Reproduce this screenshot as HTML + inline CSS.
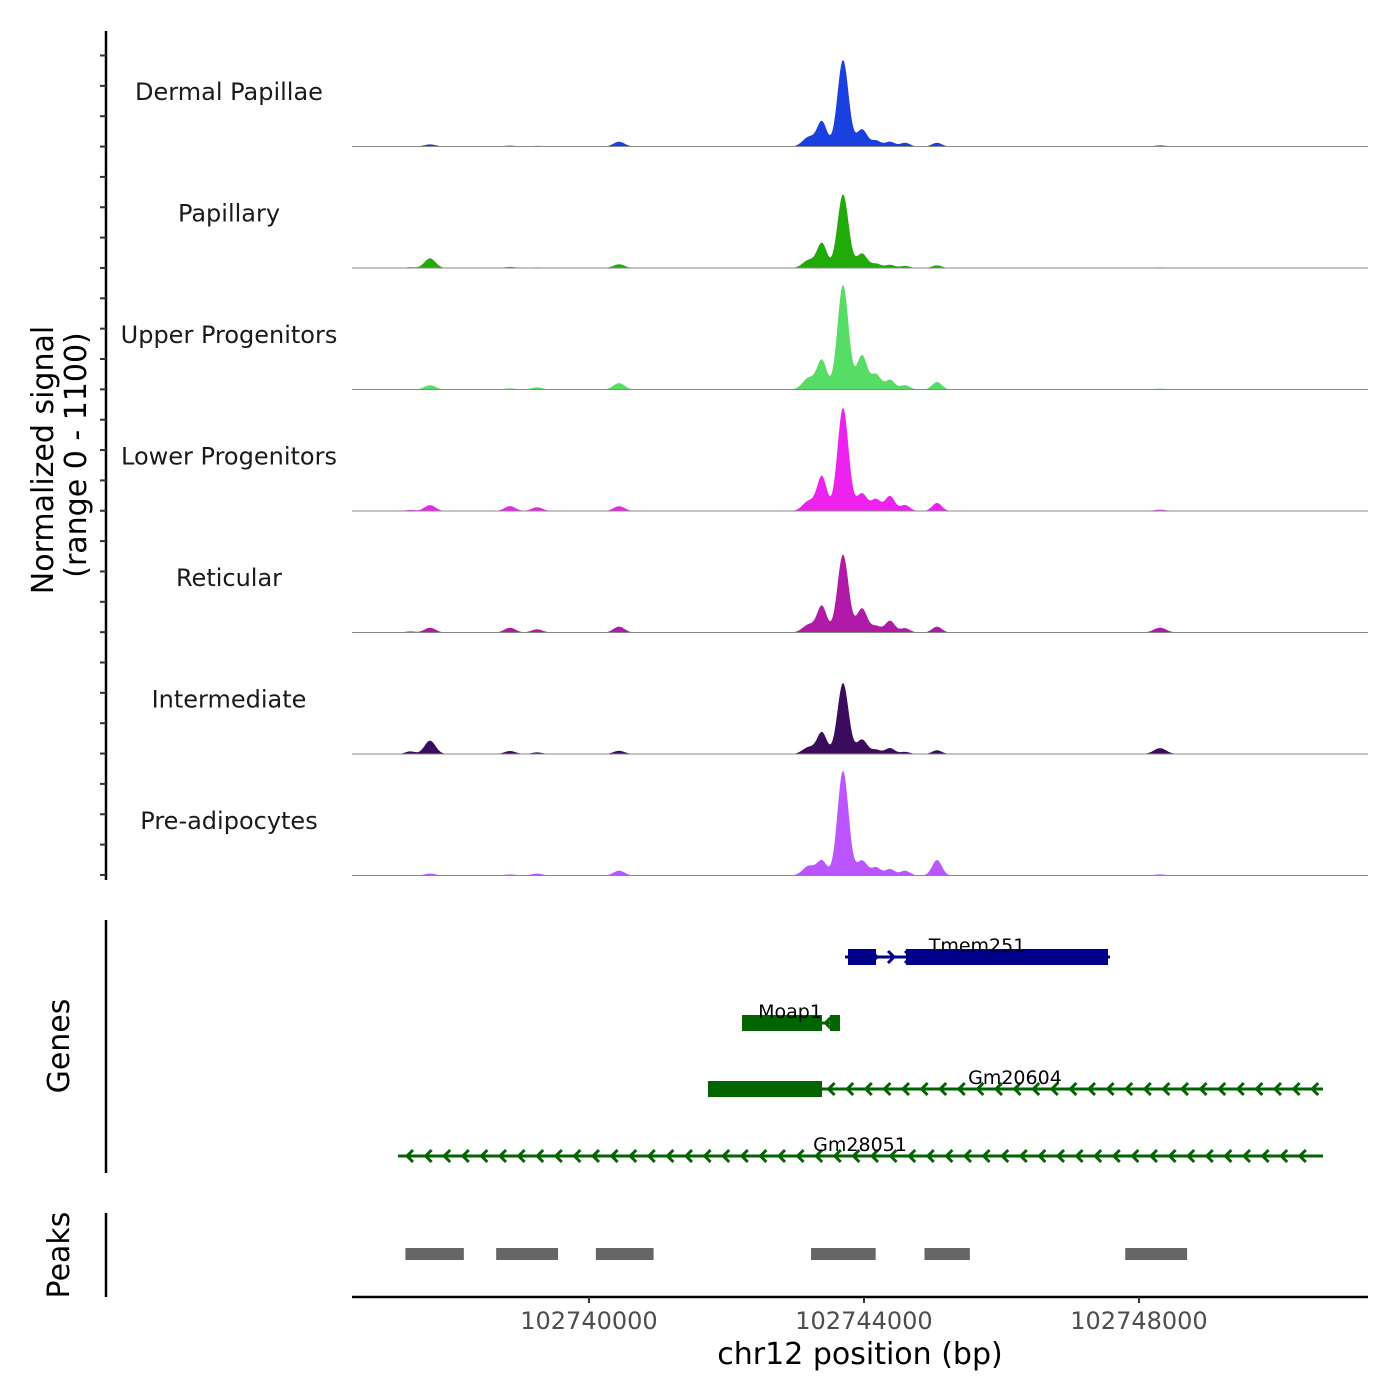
<!DOCTYPE html>
<html><head><meta charset="utf-8"><style>
html,body{margin:0;padding:0;background:#fff;}
svg{display:block;font-family:"DejaVu Sans","Liberation Sans",sans-serif;}
</style></head><body>
<svg id="chart" width="1400" height="1400" viewBox="0 0 1400 1400" xmlns="http://www.w3.org/2000/svg"></svg>
<script>
const trackNames = ["Dermal Papillae","Papillary","Upper Progenitors","Lower Progenitors","Reticular","Intermediate","Pre-adipocytes"];
const trackColors = ["#1a40e0","#22aa08","#55dd66","#ee22ee","#b01aa6","#3b0b5e","#bb55ff"];
// peak centres (bp) and per-track heights (signal units, range 0-1100)
const peakPos = [102737400,102737688,102738851,102739244,102740437,102743200,102743389,102743695,102743971,102744175,102744378,102744597,102745062,102748306];
const peakWidth = [70,80,80,80,80,90,70,80,75,70,70,70,70,90];
const dermalVals = [5,20,8,6,45,90,230,810,160,55,45,35,35,10];
const papillaryVals = [8,90,10,6,35,75,230,690,135,40,30,20,25,6];
const upperVals = [5,40,10,20,60,110,270,980,320,140,90,40,70,8];
const lowerVals = [10,55,45,35,45,95,320,965,165,110,140,55,75,12];
const reticularVals = [10,45,45,30,55,75,245,730,225,60,110,40,55,45];
const intermediateVals = [25,125,28,15,30,65,200,665,135,40,55,20,35,55];
const preadipVals = [4,18,10,18,45,90,135,980,140,75,60,45,145,10];
const trackValues = [dermalVals,papillaryVals,upperVals,lowerVals,reticularVals,intermediateVals,preadipVals];
const xTicks = [102740000,102744000,102748000];
const xTickLabels = ["102740000","102744000","102748000"];
const geneNames = ["Tmem251","Moap1","Gm20604","Gm28051"];
const geneStarts = [102743724,102742226,102741731,102737222];
const geneEnds = [102747578,102743651,102750676,102750676];
const geneExons = [[[102743767,102744175],[102744611,102747549]],[[102742226,102743389],[102743506,102743651]],[[102741731,102743389]],[]];
const geneStrand = [1,-1,-1,-1];
const geneColors = ["#00008b","#006400","#006400","#006400"];
const geneLabelPos = [102745644,102742924,102746196,102743942];
const peakStarts = [102737330,102738650,102740100,102743230,102744880,102747800];
const peakEnds = [102738180,102739550,102740940,102744170,102745540,102748700];

const svg=document.getElementById('chart');
const NS="http://www.w3.org/2000/svg";
function mk(tag,attrs,parent){const e=document.createElementNS(NS,tag);for(const k in attrs)e.setAttribute(k,attrs[k]);(parent||svg).appendChild(e);return e;}
const X0=352,X1=1368,BP0=102736553,BP1=102751331;
function xs(bp){return X0+(bp-BP0)/(BP1-BP0)*(X1-X0);}
const trackTop=25,trackH=121.5,YMAX=1100;
function ys(i,v){return trackTop+(i+1)*trackH - v/YMAX*(trackH-4);}

trackNames.forEach((name,i)=>{
  const vals=trackValues[i];
  const base=ys(i,0);
  let d="M"+X0+","+base;
  for(let px=X0;px<=X1;px+=1){
    const bp=BP0+(px-X0)/(X1-X0)*(BP1-BP0);
    let v=0;
    for(let k=0;k<peakPos.length;k++){const z=(bp-peakPos[k])/peakWidth[k];v+=vals[k]*Math.exp(-0.5*z*z);}
    d+=" L"+px+","+ys(i,Math.min(v,YMAX)).toFixed(2);
  }
  d+=" L"+X1+","+base+" Z";
  const p=mk('path',{d:d,fill:trackColors[i],stroke:'none'});
  
  
  const bl=mk('line',{x1:X0,x2:X1,y1:base,y2:base,stroke:'#888','stroke-width':1});
  
  
  const t=mk('text',{x:229,y:trackTop+i*trackH+75,'text-anchor':'middle','font-size':24,fill:'#1a1a1a'});
  t.textContent=name;
  
  
});

const ax=mk('line',{x1:106,x2:106,y1:31,y2:880,stroke:'#000','stroke-width':2.5});


for(let y=55.5;y<=878;y+=30.35){
  const tk=mk('line',{x1:100,x2:106,y1:y,y2:y,stroke:'#333','stroke-width':2});
  
  
}
const yt=mk('text',{transform:'translate(53,460) rotate(-90)','text-anchor':'middle','font-size':30,fill:'#000'});
yt.textContent='Normalized signal';


const yt2=mk('text',{transform:'translate(86,455) rotate(-90)','text-anchor':'middle','font-size':30,fill:'#000'});
yt2.textContent='(range 0 - 1100)';



const gax=mk('line',{x1:106,x2:106,y1:920,y2:1173,stroke:'#000','stroke-width':2.5});


const gt=mk('text',{transform:'translate(69,1046) rotate(-90)','text-anchor':'middle','font-size':30,fill:'#000'});
gt.textContent='Genes';


const rowY=[957,1023,1089,1156];
geneNames.forEach((g,i)=>{
  const y=rowY[i],c=geneColors[i];
  const grp=mk('g',{});
  
  
  const x1=xs(geneStarts[i]),x2=xs(geneEnds[i]);
  mk('line',{x1:x1,x2:x2,y1:y,y2:y,stroke:c,'stroke-width':3},grp);
  for(let ax2=x1+12;ax2<x2-4;ax2+=(geneStrand[i]>0?17:18.6)){
    const dd=geneStrand[i]>0?`M${ax2-3},${y-6} L${ax2+3},${y} L${ax2-3},${y+6}`:`M${ax2+3},${y-6} L${ax2-3},${y} L${ax2+3},${y+6}`;
    mk('path',{d:dd,fill:'none',stroke:c,'stroke-width':3},grp);
  }
  geneExons[i].forEach(e=>{mk('rect',{x:xs(e[0]),y:y-8,width:xs(e[1])-xs(e[0]),height:16,fill:c},grp);});
  const lt=mk('text',{x:xs(geneLabelPos[i]),y:y-5,'text-anchor':'middle','font-size':19,fill:'#000'},grp);
  lt.textContent=g;
});

const pax=mk('line',{x1:106,x2:106,y1:1213,y2:1297,stroke:'#000','stroke-width':2.5});


const pt=mk('text',{transform:'translate(69,1255) rotate(-90)','text-anchor':'middle','font-size':30,fill:'#000'});
pt.textContent='Peaks';


peakStarts.forEach((s,i)=>{
  const r=mk('rect',{x:xs(s),y:1248,width:xs(peakEnds[i])-xs(s),height:12,fill:'#666'});
  
  
});

const xa=mk('line',{x1:X0,x2:X1,y1:1297,y2:1297,stroke:'#000','stroke-width':2.5});


xTicks.forEach((t,i)=>{
  const tk=mk('line',{x1:xs(t),x2:xs(t),y1:1297,y2:1303,stroke:'#333','stroke-width':2});
  
  
  const tl=mk('text',{x:xs(t),y:1329,'text-anchor':'middle','font-size':24,fill:'#4d4d4d'});
  tl.textContent=xTickLabels[i];
  
  
});
const xt=mk('text',{x:860,y:1364,'text-anchor':'middle','font-size':30,fill:'#000'});
xt.textContent='chr12 position (bp)';


</script>
</body></html>
